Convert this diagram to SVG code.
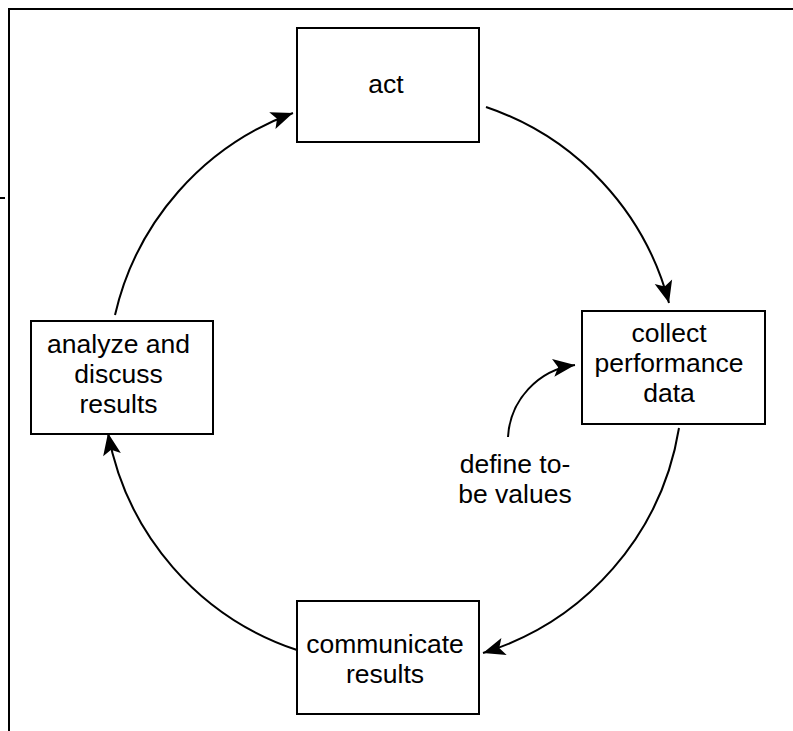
<svg xmlns="http://www.w3.org/2000/svg" width="793" height="731" viewBox="0 0 793 731">
<style>
.box{fill:#fff;stroke:#000;stroke-width:2}
.lbl{font-family:"Liberation Sans",Arial,sans-serif;font-size:26.5px;fill:#000;text-anchor:middle}
.edge{fill:none;stroke:#000;stroke-width:2;marker-end:url(#arr)}
.frame{fill:none;stroke:#000;stroke-width:2}
</style>
<defs>
<marker id="arr" markerUnits="userSpaceOnUse" markerWidth="24" markerHeight="20" refX="22" refY="9" orient="auto" overflow="visible">
<path d="M0,0 L22,9 L0,18 L5,9 Z" fill="#000"/>
</marker>
</defs>
<g id="frame">
<path class="frame" d="M9,8 V731 M8,9 H793 M0,198 H5"/>
</g>
<g id="connectors">
<path class="edge" d="M486,107 A283,283 0 0 1 669,303"/>
<path class="edge" d="M679,428 A283,283 0 0 1 483,653"/>
<path class="edge" d="M297,650 A283,283 0 0 1 108,433"/>
<path class="edge" d="M115,315 A283,283 0 0 1 293,113"/>
<path class="edge" d="M508,437 A77,77 0 0 1 575,365"/>
</g>
<g id="act">
<rect class="box" x="297" y="28" width="182" height="114"/>
<text class="lbl" x="386" y="93">act</text>
</g>
<g id="collect">
<rect class="box" x="582" y="311" width="183" height="113"/>
<text class="lbl" x="669" y="342">collect</text>
<text class="lbl" x="669" y="372">performance</text>
<text class="lbl" x="669" y="402">data</text>
</g>
<g id="communicate">
<rect class="box" x="297" y="601" width="182" height="113"/>
<text class="lbl" x="385" y="653">communicate</text>
<text class="lbl" x="385" y="683">results</text>
</g>
<g id="analyze">
<rect class="box" x="31" y="321" width="182" height="113"/>
<text class="lbl" x="118.5" y="353">analyze and</text>
<text class="lbl" x="118.5" y="383">discuss</text>
<text class="lbl" x="118.5" y="413">results</text>
</g>
<g id="define">
<text class="lbl" x="515" y="473">define to-</text>
<text class="lbl" x="515" y="503">be values</text>
</g>
</svg>
